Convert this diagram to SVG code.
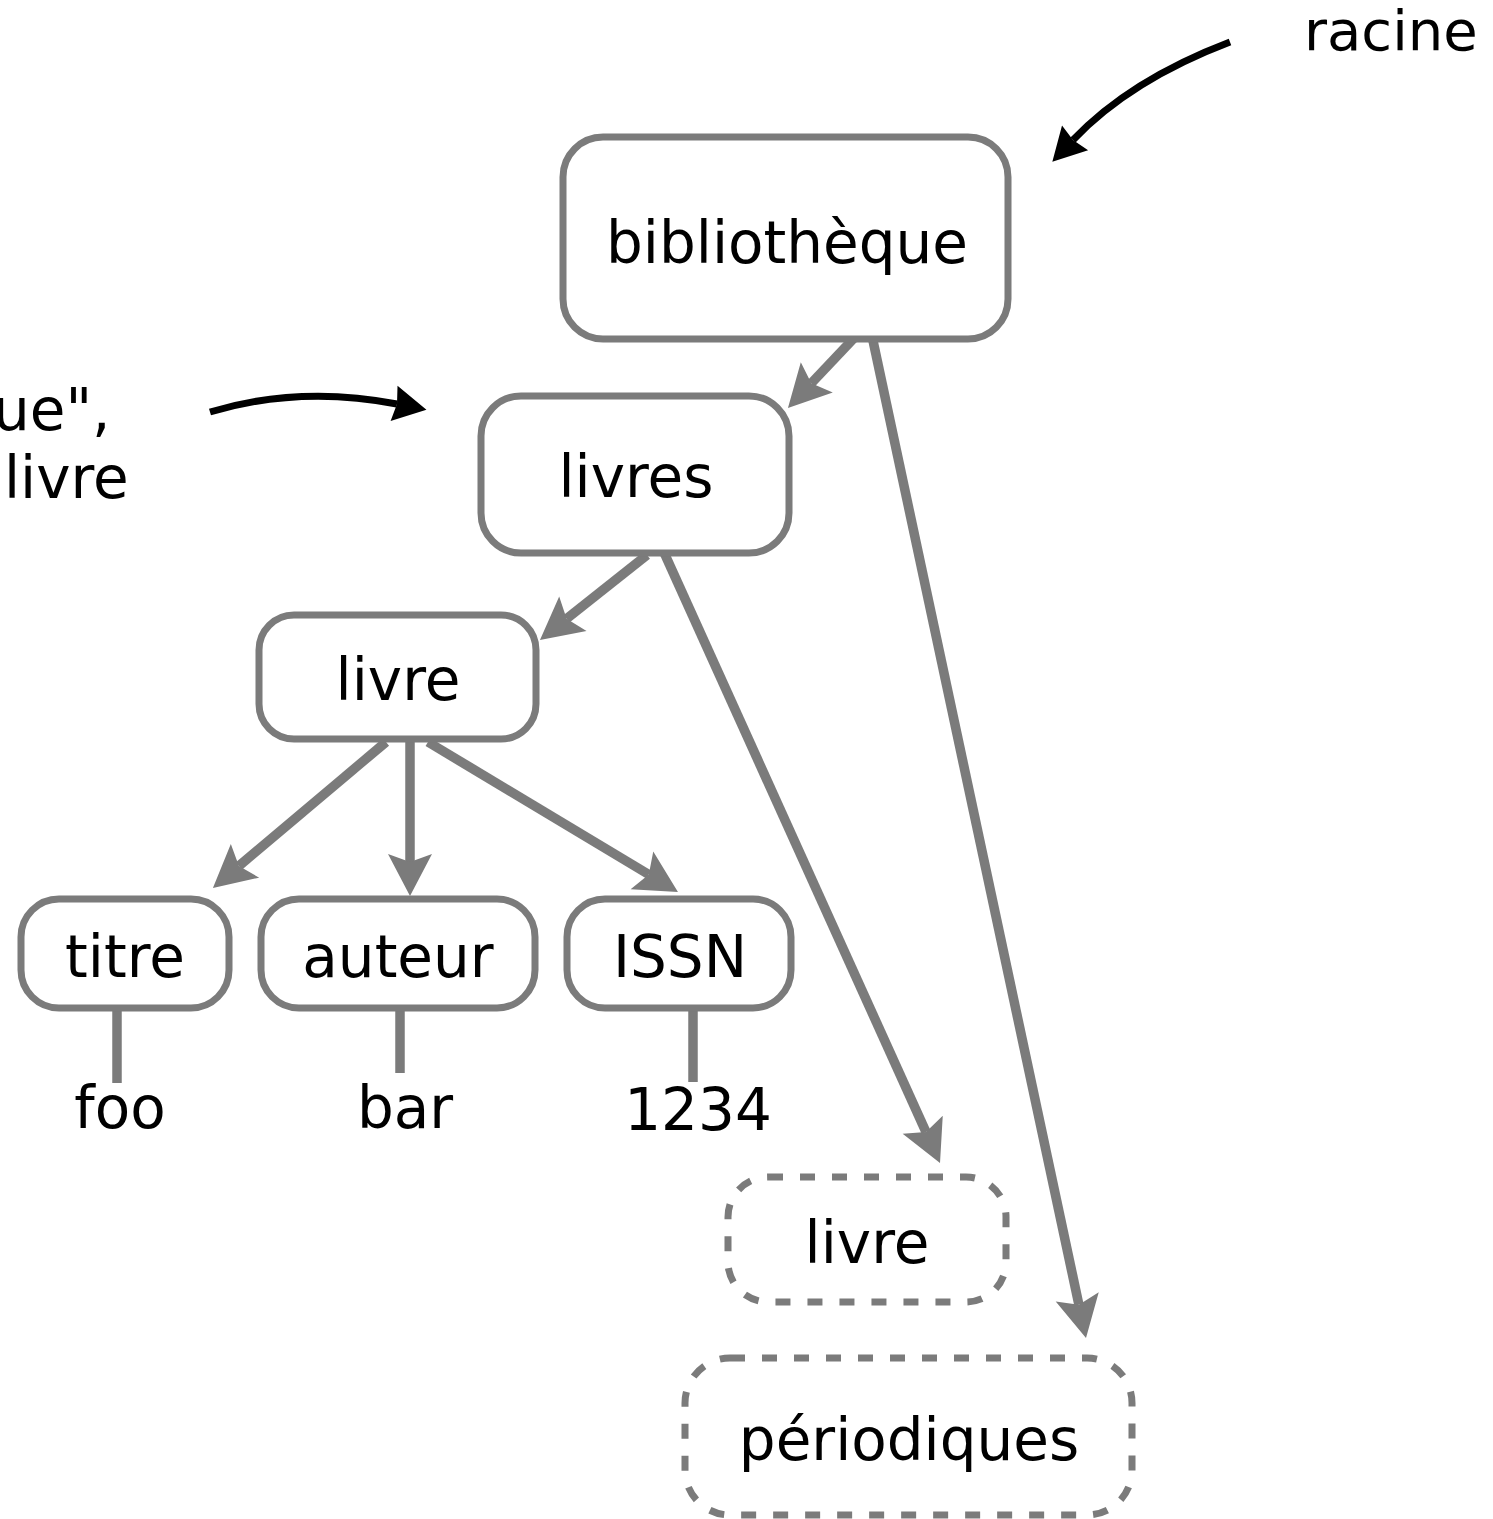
<svg xmlns="http://www.w3.org/2000/svg" width="1493" height="1519" viewBox="0 0 1493 1519">
  <style>
    .box { fill: #ffffff; stroke: #7b7b7b; stroke-width: 7; }
    .ghost { fill: #ffffff; stroke: #7b7b7b; stroke-width: 7; stroke-dasharray: 15 17; }
    .label { font-family: "DejaVu Sans", Verdana, sans-serif; font-size: 58px; fill: #000000; }
    .mid { text-anchor: middle; }
    .edge { fill: none; stroke: #7b7b7b; stroke-width: 9.5; }
    .note { fill: none; stroke: #000000; stroke-width: 7; }
  </style>
  <defs>
    <marker id="grayHead" markerUnits="userSpaceOnUse" viewBox="-10 -25 50 50" markerWidth="50" markerHeight="50" refX="0" refY="0" orient="auto" overflow="visible">
      <path d="M34,0 L-8,-22 L0,0 L-8,22 Z" fill="#7b7b7b"/>
    </marker>
    <marker id="blackHead" markerUnits="userSpaceOnUse" viewBox="-6 -20 40 40" markerWidth="40" markerHeight="40" refX="0" refY="0" orient="auto" overflow="visible">
      <path d="M30,0 L-3,-18 L0,0 L-3,18 Z" fill="#000000"/>
    </marker>
  </defs>

  <!-- tree edges and annotation pointers -->
  <g id="connectors">
    <line class="edge" x1="856" y1="336" x2="811.3" y2="383.3" marker-end="url(#grayHead)"/>
    <line class="edge" x1="872" y1="336" x2="1078.9" y2="1304.7" marker-end="url(#grayHead)"/>
    <line class="edge" x1="647" y1="555" x2="566.6" y2="618.8" marker-end="url(#grayHead)"/>
    <line class="edge" x1="662" y1="548" x2="926" y2="1132" marker-end="url(#grayHead)"/>
    <line class="edge" x1="386" y1="742" x2="238.9" y2="866" marker-end="url(#grayHead)"/>
    <line class="edge" x1="410" y1="740" x2="410" y2="862" marker-end="url(#grayHead)"/>
    <line class="edge" x1="428" y1="742" x2="648.8" y2="874.5" marker-end="url(#grayHead)"/>
    <line class="edge" x1="117" y1="1008" x2="117" y2="1083"/>
    <line class="edge" x1="400" y1="1005" x2="400" y2="1073"/>
    <line class="edge" x1="693" y1="1008" x2="693" y2="1082"/>
    <path class="note" d="M1230,42 Q1130,80 1073,140" marker-end="url(#blackHead)"/>
    <path class="note" d="M210,412 Q300,385 397,404" marker-end="url(#blackHead)"/>
  </g>

  <g id="bibliotheque">
    <rect class="box" x="563" y="137" width="445" height="202" rx="40"/>
    <text class="label mid" x="787" y="263">bibliothèque</text>
  </g>
  <g id="livres">
    <rect class="box" x="481" y="396" width="308" height="157" rx="40"/>
    <text class="label mid" x="636" y="497">livres</text>
  </g>
  <g id="livre">
    <rect class="box" x="259" y="615" width="277" height="124" rx="35"/>
    <text class="label mid" x="398" y="700">livre</text>
  </g>
  <g id="titre">
    <rect class="box" x="21" y="899" width="208" height="109" rx="38"/>
    <text class="label mid" x="125" y="977">titre</text>
  </g>
  <g id="auteur">
    <rect class="box" x="261" y="899" width="274" height="109" rx="38"/>
    <text class="label mid" x="398" y="977">auteur</text>
  </g>
  <g id="issn">
    <rect class="box" x="567" y="899" width="224" height="109" rx="38"/>
    <text class="label mid" x="680" y="977">ISSN</text>
  </g>
  <g id="foo">
    <text class="label mid" x="120" y="1128">foo</text>
  </g>
  <g id="bar">
    <text class="label mid" x="405" y="1128">bar</text>
  </g>
  <g id="val1234">
    <text class="label mid" x="698" y="1130">1234</text>
  </g>
  <g id="livre-autre">
    <rect class="ghost" x="728" y="1177" width="278" height="125" rx="40"/>
    <text class="label mid" x="867" y="1263">livre</text>
  </g>
  <g id="periodiques">
    <rect class="ghost" x="685" y="1358" width="447" height="157" rx="45"/>
    <text class="label mid" x="909" y="1460">périodiques</text>
  </g>

  <!-- annotations -->
  <g id="racine">
    <text class="label" x="1304" y="50" style="font-size:56px">racine</text>
  </g>
  <g id="note-left">
    <text class="label" x="-7" y="430">ue",</text>
    <text class="label" x="4" y="498">livre</text>
  </g>
</svg>
